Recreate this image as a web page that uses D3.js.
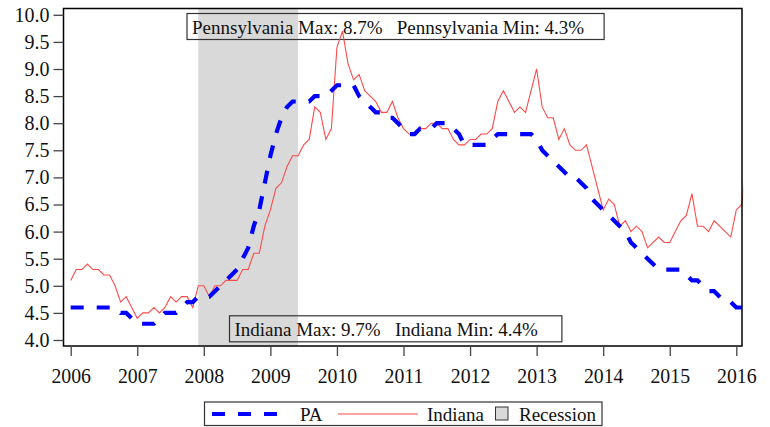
<!DOCTYPE html>
<html>
<head>
<meta charset="utf-8">
<script src="https://cdn.jsdelivr.net/npm/d3@7"></script>
<style>
  html, body { margin: 0; padding: 0; background: #fff; }
  svg { display: block; font-family: "Liberation Serif", "Times New Roman", serif; }
</style>
</head>
<body>
<svg id="chart" width="770" height="427"></svg>
<script>
// ---------------- data ----------------
const years = [2006, 2007, 2008, 2009, 2010, 2011, 2012, 2013, 2014, 2015, 2016];
const yTicks = [4.0, 4.5, 5.0, 5.5, 6.0, 6.5, 7.0, 7.5, 8.0, 8.5, 9.0, 9.5, 10.0];
const startYear = 2006; // monthly series, first value = Jan 2006
const paValues = [
  4.6, 4.6, 4.6, 4.6, 4.6, 4.6, 4.6, 4.6, 4.6, 4.5, 4.5, 4.4,
  4.3, 4.3, 4.3, 4.3, 4.4, 4.5, 4.5, 4.5, 4.6, 4.7, 4.7, 4.8,
  4.8, 4.8, 4.9, 5.0, 5.1, 5.2, 5.3, 5.5, 5.7, 6.1, 6.4, 6.9,
  7.4, 7.8, 8.1, 8.3, 8.4, 8.4, 8.4, 8.4, 8.5, 8.5, 8.5, 8.6,
  8.7, 8.7, 8.7, 8.7, 8.5, 8.4, 8.3, 8.2, 8.2, 8.1, 8.1, 8.0,
  7.9, 7.8, 7.8, 7.9, 7.9, 7.9, 8.0, 8.0, 8.0, 7.9, 7.8, 7.6,
  7.6, 7.6, 7.6, 7.6, 7.7, 7.8, 7.8, 7.8, 7.8, 7.8, 7.8, 7.8,
  7.7, 7.5, 7.4, 7.3, 7.2, 7.1, 7.0, 7.0, 6.9, 6.8, 6.6, 6.5,
  6.4, 6.3, 6.2, 6.1, 6.0, 5.8, 5.7, 5.6, 5.5, 5.4, 5.3, 5.3,
  5.3, 5.3, 5.3, 5.2, 5.1, 5.1, 5.0, 4.9, 4.9, 4.8, 4.7, 4.7,
  4.6, 4.6
];
const indianaValues = [
  5.1, 5.3, 5.3, 5.4, 5.3, 5.3, 5.2, 5.2, 5.0, 4.7, 4.8, 4.6,
  4.4, 4.5, 4.5, 4.6, 4.5, 4.6, 4.8, 4.7, 4.8, 4.8, 4.6, 5.0,
  5.0, 4.8, 5.0, 5.0, 5.1, 5.1, 5.1, 5.3, 5.3, 5.6, 5.6, 6.1,
  6.4, 6.8, 6.9, 7.2, 7.4, 7.4, 7.6, 7.7, 8.3, 8.2, 7.7, 7.9,
  9.4, 9.7, 9.1, 8.8, 8.9, 8.6, 8.5, 8.4, 8.2, 8.2, 8.4, 8.1,
  7.9, 7.8, 7.8, 7.9, 7.9, 8.0, 8.0, 7.9, 7.9, 7.7, 7.6, 7.6,
  7.7, 7.7, 7.8, 7.8, 7.9, 8.4, 8.6, 8.4, 8.2, 8.3, 8.2, 8.6,
  9.0, 8.3, 8.1, 8.1, 7.7, 7.9, 7.6, 7.5, 7.5, 7.6, 7.2, 6.8,
  6.4, 6.6, 6.5, 6.1, 6.2, 6.0, 6.1, 6.0, 5.7, 5.8, 5.9, 5.8,
  5.8, 6.0, 6.2, 6.3, 6.7, 6.1, 6.1, 6.0, 6.2, 6.1, 6.0, 5.9,
  6.4, 6.5, 7.4
];
const recession = [2007 + 11 / 12, 2009 + 5 / 12];
const paLabel = "Pennsylvania Max: 8.7%   Pennsylvania Min: 4.3%";
const inLabel = "Indiana Max: 9.7%   Indiana Min: 4.4%";
const legendItems = ["PA", "Indiana", "Recession"];

// ---------------- layout ----------------
const svg = d3.select("#chart");
const frame = { l: 63.5, t: 8.5, r: 742, b: 346 };
const x = d3.scaleLinear().domain([2006, 2016]).range([70.7, 736.3]);
const y = d3.scaleLinear().domain([4, 10]).range([340, 14.8]);
const FS = 19;
const FONT = "Liberation Serif, Times New Roman, serif";
const blue = "#0000ff", red = "#ff4a4a", grey = "#d9d9d9";

const toPts = vals => vals.map((v, i) => ({ t: startYear + i / 12, v }));
const paPts = toPts(paValues);
const inPts = toPts(indianaValues);

svg.append("defs").append("clipPath").attr("id", "clip")
  .append("rect").attr("x", frame.l).attr("y", frame.t)
  .attr("width", frame.r - frame.l + 1.2).attr("height", frame.b - frame.t);

// recession band
svg.append("rect")
  .attr("x", x(recession[0])).attr("y", frame.t)
  .attr("width", x(recession[1]) - x(recession[0]))
  .attr("height", frame.b - frame.t)
  .attr("fill", grey);

// annotation boxes
function annot(text, left, baseline, padL, padR, boxTop, boxBottom) {
  const g = svg.append("g");
  const t = g.append("text").attr("x", left + padL).attr("y", baseline)
    .attr("font-size", FS).attr("fill", "#111")
    .attr("xml:space", "preserve").style("white-space", "pre").text(text);
  const w = t.node().getComputedTextLength();
  g.insert("rect", "text")
    .attr("x", left).attr("y", boxTop)
    .attr("width", padL + w + padR).attr("height", boxBottom - boxTop)
    .attr("fill", "none").attr("stroke", "#333").attr("stroke-width", 1.2);
}
annot(paLabel, 187, 33.5, 5, 20, 13.5, 39.5);
annot(inLabel, 229.5, 335.5, 5, 24, 315.8, 341.8);

// lines
const line = d3.line().x(d => x(d.t)).y(d => y(d.v));
const plot = svg.append("g").attr("clip-path", "url(#clip)");
plot.append("path").datum(inPts).attr("d", line)
  .attr("fill", "none").attr("stroke", red).attr("stroke-width", 1.1);
plot.append("path").datum(paPts).attr("d", line)
  .attr("fill", "none").attr("stroke", blue).attr("stroke-width", 4.2)
  .attr("stroke-dasharray", "13,13");

// frame
svg.append("rect").attr("x", frame.l).attr("y", frame.t)
  .attr("width", frame.r - frame.l).attr("height", frame.b - frame.t)
  .attr("fill", "none").attr("stroke", "#000").attr("stroke-width", 1.5);

// axes
const yAxis = svg.append("g").attr("transform", `translate(${frame.l},0)`)
  .call(d3.axisLeft(y).tickValues(yTicks).tickFormat(d3.format(".1f")).tickSize(10).tickPadding(4));
const xAxis = svg.append("g").attr("transform", `translate(0,${frame.b})`)
  .call(d3.axisBottom(x).tickValues(years).tickFormat(d3.format("d")).tickSize(10).tickPadding(9));
[yAxis, xAxis].forEach(a => {
  a.attr("font-family", FONT);
  a.select(".domain").remove();
  a.selectAll(".tick line").attr("stroke", "#444").attr("stroke-width", 1.3);
  a.selectAll(".tick text").attr("fill", "#111");
});
yAxis.selectAll(".tick text").attr("font-size", 20);
xAxis.selectAll(".tick text")
  .attr("font-size", 22).attr("dy", 0).attr("y", 37)
  .attr("transform", "scale(0.9,1)");

// legend
const lg = svg.append("g");
const ly = 414;
lg.append("rect").attr("x", 204.5).attr("y", 402).attr("width", 397.5).attr("height", 23.5)
  .attr("fill", "none").attr("stroke", "#333").attr("stroke-width", 1.2);
lg.append("line").attr("x1", 212).attr("x2", 279).attr("y1", ly).attr("y2", ly)
  .attr("stroke", blue).attr("stroke-width", 4.2).attr("stroke-dasharray", "13,13");
lg.append("text").attr("x", 300).attr("y", 420.5).attr("font-size", FS).attr("fill", "#111").text(legendItems[0]);
lg.append("line").attr("x1", 338).attr("x2", 418).attr("y1", ly).attr("y2", ly)
  .attr("stroke", red).attr("stroke-width", 1.1);
lg.append("text").attr("x", 427).attr("y", 420.5).attr("font-size", FS).attr("fill", "#111").text(legendItems[1]);
lg.append("rect").attr("x", 495.5).attr("y", 407).attr("width", 12.5).attr("height", 13)
  .attr("fill", grey).attr("stroke", "#333").attr("stroke-width", 1);
lg.append("text").attr("x", 519).attr("y", 420.5).attr("font-size", FS).attr("fill", "#111").text(legendItems[2]);
</script>
</body>
</html>
